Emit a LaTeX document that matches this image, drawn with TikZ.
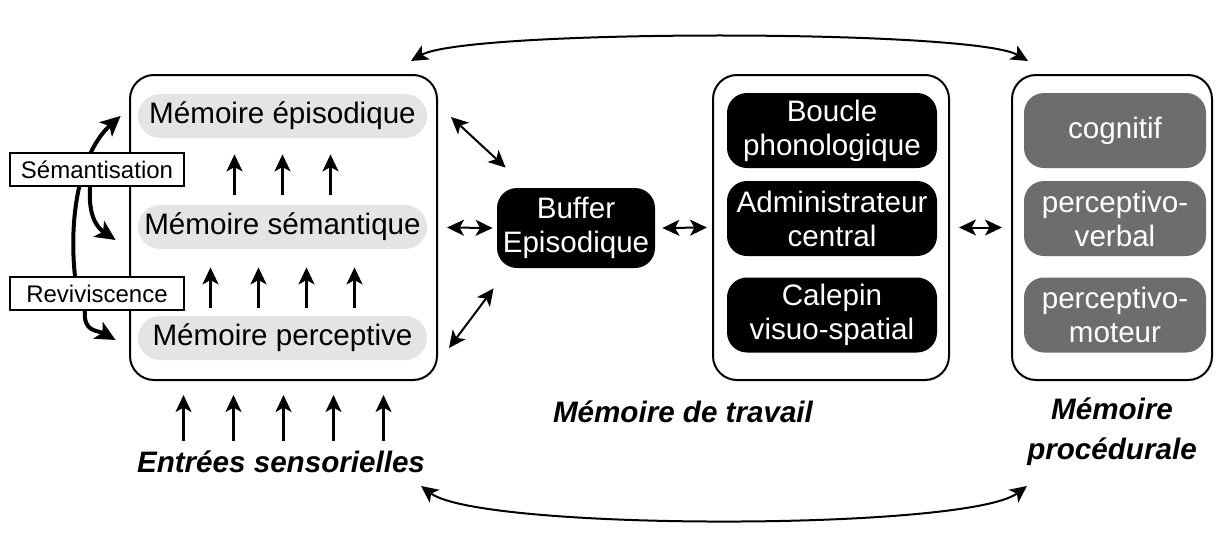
\documentclass[tikz,border=0pt]{standalone}
\usepackage{fontspec}
\setmainfont{Liberation Sans}
\usetikzlibrary{arrows.meta,calc,backgrounds}
\definecolor{pillgray}{HTML}{E4E4E4}
\definecolor{procgray}{HTML}{6D6D6D}

\begin{document}
\begin{tikzpicture}[x=0.5pt,y=-0.5pt,
    every node/.style={inner sep=0pt,align=center,font=\fontsize{14.8}{17}\selectfont},
    frame/.style={draw,line width=1pt,rounded corners=12pt,minimum height=152.5pt},
    pill/.style={fill=pillgray,rounded corners=11pt,minimum width=144.5pt,minimum height=22pt},
    darkbox/.style={fill=black,text=white,rounded corners=10pt,minimum width=105pt,minimum height=37.5pt},
    procbox/.style={darkbox,fill=procgray,minimum width=91pt},
    tag/.style={draw,fill=white,line width=0.6pt,minimum width=87pt,minimum height=16.5pt,font=\fontsize{12}{14}\selectfont},
    caption/.style={font=\fontsize{14.8}{20}\selectfont\bfseries\itshape},
    head/.style={Stealth[length=8.5pt,width=8pt,inset=2.2pt]},
    dbl/.style={{Stealth[length=8.5pt,width=8pt,inset=2.2pt]}-{Stealth[length=8.5pt,width=8pt,inset=2.2pt]},line width=1pt},
    up/.style={-{Stealth[length=8.5pt,width=8pt,inset=2.2pt]},line width=1.1pt},
    swoop/.style={-{Stealth[length=10pt,width=9.5pt,inset=2.5pt]},line width=2pt}]
  \useasboundingbox (0,0) rectangle (1216,536);

  % the three memory frames
  \node[frame,minimum width=153.5pt] (lbox) at (283.5,227.5) {};
  \node[frame,minimum width=118pt] (wm) at (831,227.5) {};
  \node[frame,minimum width=100pt] (proc) at (1112,227.5) {};

  \node[pill] (epi) at (282.5,116) {Mémoire épisodique};
  \node[pill] (sem) at (282.5,227) {Mémoire sémantique};
  \node[pill] (perc) at (282.5,338) {Mémoire perceptive};

  \node[darkbox,minimum width=79pt,minimum height=40pt] (buf) at (576,228) {Buffer\\Episodique};

  \node[darkbox] (bou) at (832,130.5) {Boucle\\phonologique};
  \node[darkbox] (adm) at (832,218.5) {Administrateur\\central};
  \node[darkbox] (cal) at (832,315) {Calepin\\visuo-spatial};

  \node[procbox] (cog) at (1115,130.5) {cognitif};
  \node[procbox] (pv) at (1115,218.5) {perceptivo-\\verbal};
  \node[procbox] (pm) at (1115,315) {perceptivo-\\moteur};

  \node[tag] (sma) at (97,169.5) {Sémantisation};
  \node[tag] (rev) at (97,293.5) {Reviviscence};

  \node[caption] (inp) at (281,462) {Entrées sensorielles};
  \node[caption] (wmlab) at (683,412) {Mémoire de travail};
  \node[caption] (proclab) at (1112,432) {Mémoire\\procédurale};

  % upward arrows
  \foreach \dx in {-48,0,48}
    \draw[up] ($(sem.north)+(\dx,-10)$) -- ($(epi.south)+(\dx,16)$);
  \foreach \dx in {-72,-24,24,72}
    \draw[up] ($(perc.north)+(\dx,-8)$) -- ($(sem.south)+(\dx,18)$);
  \foreach \dx in {-100,-50,0,50,100}
    \draw[up] ($(lbox.south)+(\dx,60)$) -- ($(lbox.south)+(\dx,14)$);

  % exchanges with the buffer
  \draw[dbl] ($(lbox.north east)+(13,43)$) -- ($(buf.north west)+(9,-20)$);
  \draw[dbl] ($(lbox.east)+(9,0)$) -- ($(buf.west)+(-4,0)$);
  \draw[dbl] ($(lbox.south east)+(11,-33)$) -- ($(buf.south west)+(-3,20)$);
  \draw[dbl] ($(buf.east)+(7,0)$) -- ($(wm.west)+(-5,0)$);
  \draw[dbl] ($(wm.east)+(9,0)$) -- ($(proc.west)+(-9,0)$);

  % long arcs
  \draw[dbl] ($(lbox.north east)+(-27,-13)$) .. controls +(55,-32) and +(-55,-32) .. ($(proc.north west)+(17,-13)$);
  \draw[dbl] ($(lbox.south east)+(-17,105)$) .. controls +(60,45) and +(-60,45) .. ($(proc.south west)+(16,105)$);

  % semantisation / reviviscence
  \begin{pgfonlayer}{background}
    \draw[swoop] ($(rev.north)+(-22,0)$) .. controls +(-7,-67) and +(-38,34) .. ($(epi.west)+(-17,0)$);
  \end{pgfonlayer}
  \draw[swoop] ($(sma.south)+(-7,0)$) .. controls +(-2,30) and +(-18,-12) .. ($(sem.west)+(-22,13)$);
  \draw[swoop] ($(rev.south)+(-12,0)$) .. controls +(-2,22) and +(-18,-10) .. ($(perc.west)+(-22,2)$);
\end{tikzpicture}
\end{document}
